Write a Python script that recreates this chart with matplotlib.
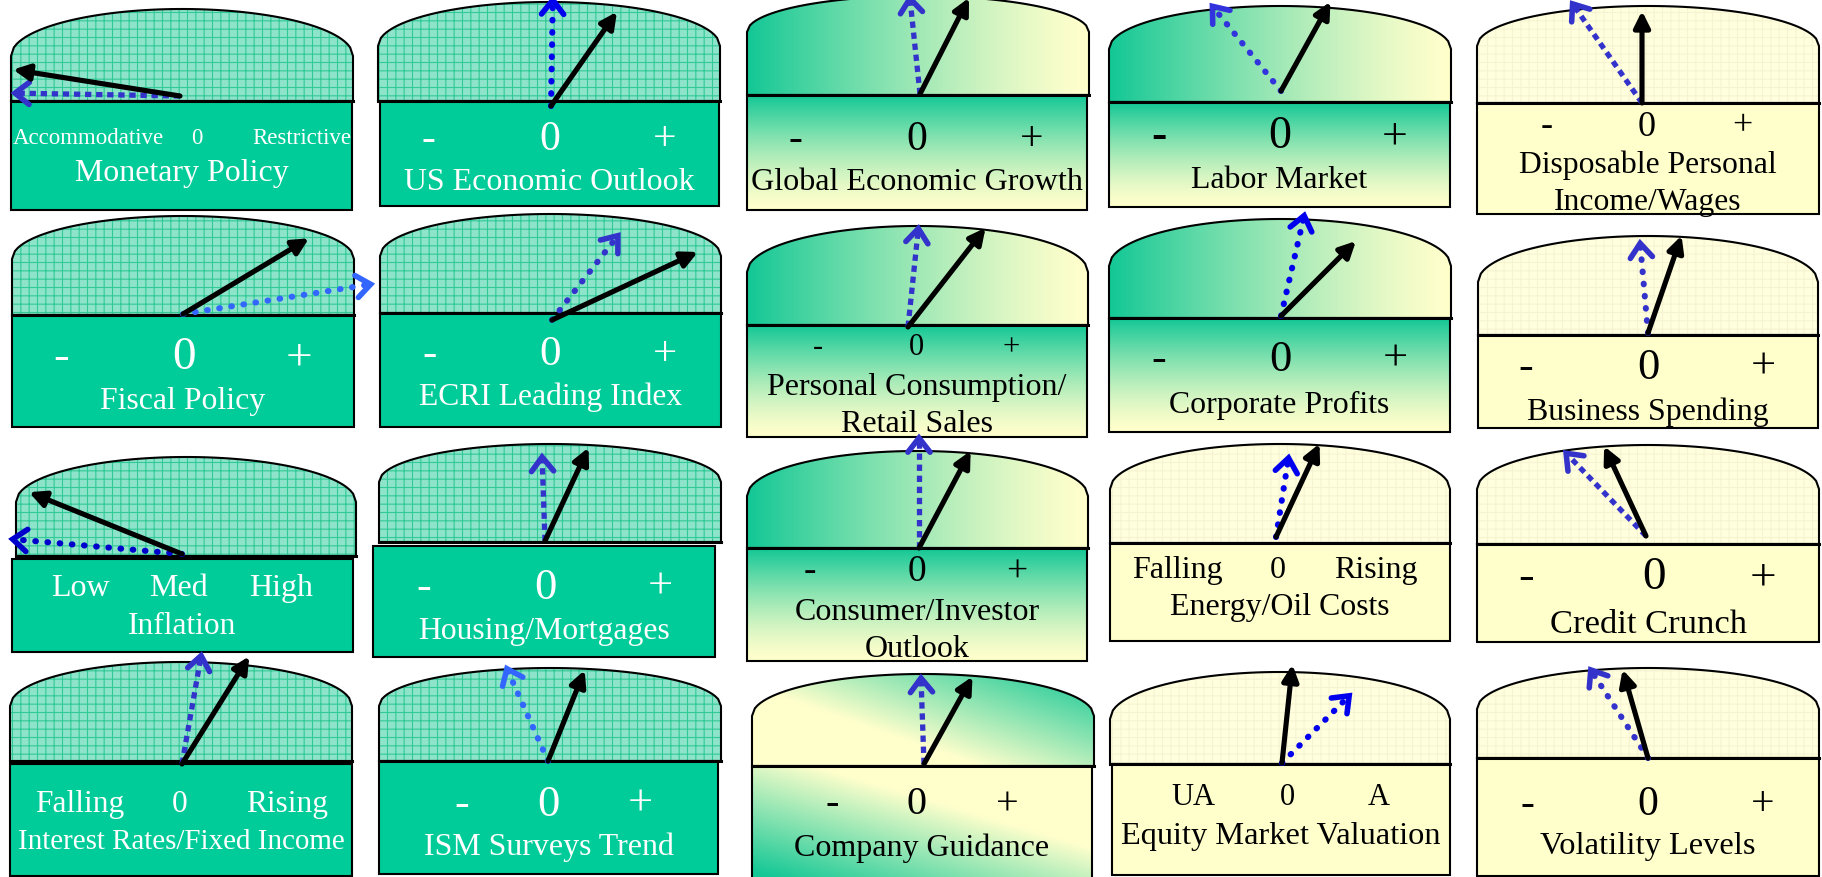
import numpy as np
import matplotlib
matplotlib.use("Agg")
import matplotlib.pyplot as plt
from matplotlib.path import Path
from matplotlib.patches import PathPatch, Rectangle, FancyArrowPatch

plt.rcParams['font.family'] = ['Liberation Serif', 'DejaVu Serif']
plt.rcParams['hatch.linewidth'] = 0.8

# ---- data: one entry per gauge, row by row ----
titles = ["Monetary Policy", "US Economic Outlook", "Global Economic Growth",
          "Labor Market", "Disposable Personal\nIncome/Wages",
          "Fiscal Policy", "ECRI Leading Index", "Personal Consumption/\nRetail Sales",
          "Corporate Profits", "Business Spending",
          "Inflation", "Housing/Mortgages", "Consumer/Investor\nOutlook",
          "Energy/Oil Costs", "Credit Crunch",
          "Interest Rates/Fixed Income", "ISM Surveys Trend", "Company Guidance",
          "Equity Market Valuation", "Volatility Levels"]
pm = ("-", "0", "+")
scale_labels = [("Accommodative", "0", "Restrictive"), pm, pm, pm, pm,
                pm, pm, pm, pm, pm,
                ("Low", "Med", "High"), pm, pm, ("Falling", "0", "Rising"), pm,
                ("Falling", "0", "Rising"), pm, pm, ("UA", "0", "A"), pm]
# needle readings in degrees, -90 = far left, 0 = straight up, +90 = far right
current_reading = [-81, 35, 27, 29, 0, 59, 65, 38, 45, 19,
                   -68, 25, 28, 25, -25, 32, 22, 29, 6, -16]
prior_reading = [-89, 1, -6, -39, -35, 81, 38, 6, 13, -5,
                 -85, -2, 0, 9, -44, 10, -24, -2, 45, -33]

# ---- layout (pixels, y down) ----
# dome l, r, top, shoulder, base, box l, r, top, bottom
geom = [
    (11, 353, 10, 57, 102, 11, 352, 102, 211),
    (378, 720, 3, 47, 102, 380, 719, 102, 207),
    (747, 1089, -3, 33, 96, 747, 1087, 96, 211),
    (1109, 1451, 7, 50, 103, 1109, 1450, 103, 208),
    (1477, 1819, 7, 47, 104, 1477, 1819, 104, 215),
    (12, 354, 217, 260, 316, 12, 354, 316, 428),
    (380, 721, 215, 257, 314, 380, 721, 314, 428),
    (747, 1088, 227, 273, 326, 747, 1087, 326, 438),
    (1109, 1451, 220, 267, 319, 1109, 1450, 319, 433),
    (1478, 1818, 237, 283, 336, 1478, 1818, 336, 429),
    (16, 356, 458, 503, 557, 12, 353, 560, 653),
    (379, 721, 445, 483, 543, 373, 715, 547, 658),
    (747, 1088, 452, 497, 549, 747, 1087, 549, 662),
    (1110, 1450, 445, 490, 544, 1110, 1450, 544, 642),
    (1477, 1819, 446, 490, 545, 1477, 1819, 545, 643),
    (10, 352, 663, 707, 762, 10, 352, 765, 877),
    (379, 721, 669, 707, 762, 379, 718, 762, 875),
    (752, 1094, 675, 717, 767, 752, 1092, 767, 880),
    (1110, 1450, 673, 720, 765, 1112, 1450, 765, 876),
    (1477, 1819, 669, 710, 759, 1477, 1819, 759, 877),
]
pivots = [(180, 97), (551, 107), (920, 95), (1281, 92), (1642, 104),
          (183, 315), (552, 321), (908, 328), (1281, 317), (1648, 334),
          (182, 555), (545, 542), (919, 549), (1276, 538), (1646, 537),
          (182, 765), (548, 762), (924, 765), (1282, 764), (1648, 759)]
needle_len = [(169, 165), (115, 106), (108, 96), (102, 109), (92, 121),
              (147, 190), (161, 107), (126, 99), (106, 103), (103, 90),
              (165, 170), (103, 84), (110, 110), (103, 80), (99, 115),
              (127, 110), (98, 101), (100, 86), (99, 95), (92, 105)]
tick_x = [(88, 197, 302), (428, 550, 665), (795, 917, 1032), (1159, 1280, 1395), (1547, 1647, 1742),
          (61, 184, 299), (429, 550, 665), (818, 916, 1011), (1159, 1280, 1395), (1526, 1648, 1763),
          (80, 179, 281), (424, 545, 660), (810, 917, 1017), (1177, 1278, 1376), (1526, 1654, 1763),
          (80, 180, 287), (462, 548, 640), (832, 917, 1007), (1193, 1287, 1379), (1527, 1648, 1763)]
# tick y, tick size (pt), title centre y, width of widest title line (px)
txt = [(138, 16.5, 173, 213), (140, 30, 183, 290), (140, 30, 182, 331), (137, 33, 180, 176), (127, 26, 184, 258),
       (358, 34, 402, 165), (355, 31, 397, 264), (348, 22, 406, 300), (360, 32, 405, 220), (368, 32, 412, 242),
       (589, 23, 627, 108), (588, 32, 632, 252), (572, 27, 631, 245), (571, 23, 608, 220), (578, 34, 625, 196),
       (805, 22.6, 842, 327), (805, 32, 847, 250), (805, 29, 848, 255), (798, 22, 837, 319), (805, 30, 847, 215)]
LINE_GAP = 37
fills = ['hatch', 'hatch', 'grad', 'grad', 'pale',
         'hatch', 'hatch', 'grad', 'grad', 'pale',
         'hatch', 'hatch', 'grad', 'pale', 'pale',
         'hatch', 'hatch', 'guide', 'pale', 'pale']
dots = ['sq', 'rd', 'sq', 'rd', 'sq', 'rd', 'rd', 'sq', 'rd', 'rd',
        'rd', 'sq', 'sq', 'rd', 'sq', 'sq', 'rd', 'sq', 'rd', 'rd']
blues = ['#3333CC', '#0000EE', '#3333CC', '#3333DD', '#3333CC',
         '#3366FF', '#3333CC', '#3333CC', '#0000EE', '#3333CC',
         '#0000CC', '#3333CC', '#3333CC', '#0000EE', '#3333CC',
         '#3333CC', '#3366FF', '#3333CC', '#0000EE', '#3333CC']

TEAL = '#00CC99'
teal_rgb = np.array([0x14, 0xC8, 0x96]) / 255.0
yel_rgb = np.array([1.0, 1.0, 0.8])


def gradient(kind, part):
    xn, yn = np.meshgrid(np.linspace(0, 1, 64), np.linspace(0, 1, 64))
    if kind == 'guide':
        if part == 'dome':
            t = 0.9 * xn - 0.7 * yn + 0.1
        else:
            t = 0.9 * yn - 0.8 * xn + 0.15
    elif part == 'dome':
        t = (1 - xn) ** 1.3
    else:
        t = (1 - yn) ** 1.4
    t = np.clip(t, 0, 1)[..., None]
    return yel_rgb * (1 - t) + teal_rgb * t


fig = plt.figure(figsize=(18.22, 8.78), dpi=100)
ax = fig.add_axes([0, 0, 1, 1])
ax.set_autoscale_on(False)
ax.set_xlim(0, 1822)
ax.set_ylim(878, 0)
ax.axis('off')
renderer = fig.canvas.get_renderer()

for i in range(len(titles)):
    l, r, top, sh, base, bl, br, bt, bb = geom[i]
    u = np.linspace(-1, 1, 120)
    xs = (l + r) / 2 + u * (r - l) / 2
    ys = sh - (sh - top) * np.sqrt(1 - u ** 2)
    verts = [(l, base)] + list(zip(xs, ys)) + [(r, base), (l, base)]
    codes = [Path.MOVETO] + [Path.LINETO] * (len(xs) + 1) + [Path.CLOSEPOLY]
    dome = Path(verts, codes)
    kind = fills[i]

    outline = PathPatch(dome, facecolor='none', edgecolor='black', lw=1.5, zorder=3)
    ax.add_patch(outline)
    if kind == 'hatch':
        ax.add_patch(PathPatch(dome, facecolor='#8DE4CA', edgecolor='#33C996',
                               lw=0, hatch='++', zorder=1))
        ax.add_patch(Rectangle((bl, bt), br - bl, bb - bt, facecolor=TEAL,
                               edgecolor='none', zorder=1))
        tcol = 'white'
    elif kind == 'pale':
        ax.add_patch(PathPatch(dome, facecolor='#FFFFDD', edgecolor='#F6F3D2',
                               lw=0, hatch='++', zorder=1))
        ax.add_patch(Rectangle((bl, bt), br - bl, bb - bt, facecolor='#FFFFCC',
                               edgecolor='none', zorder=1))
        tcol = 'black'
    else:
        im = ax.imshow(gradient(kind, 'dome'), extent=(l, r, base, top), origin='upper',
                       aspect='auto', interpolation='bilinear', zorder=1)
        im.set_clip_path(outline)
        ax.imshow(gradient(kind, 'box'), extent=(bl, br, bb, bt), origin='upper',
                  aspect='auto', interpolation='bilinear', zorder=1)
        tcol = 'black'
    ax.add_patch(Rectangle((bl, bt), br - bl, bb - bt, facecolor='none',
                           edgecolor='black', lw=1.5, zorder=3))
    ax.plot([l, r], [base, base], color='black', lw=2.2, zorder=3)

    ty, tfs, hy, hw = txt[i]
    for lab, x in zip(scale_labels[i], tick_x[i]):
        ax.text(x, ty, lab, ha='center', va='center', fontsize=tfs, color=tcol, zorder=4)

    # title: size it so the widest line spans the measured width
    lines = titles[i].split('\n')
    widest = max(lines, key=len)
    probe = ax.text(0, 0, widest, fontsize=20)
    fs = 20 * hw / probe.get_window_extent(renderer).width
    probe.remove()
    for k, line in enumerate(lines):
        yk = hy + (k - (len(lines) - 1) / 2) * LINE_GAP
        ax.text((bl + br) / 2, yk, line, ha='center', va='center', fontsize=fs,
                color=tcol, zorder=4)

    px, py = pivots[i]
    len_now, len_prior = needle_len[i]

    # prior reading: dotted blue needle with open head
    a = np.radians(prior_reading[i])
    d = np.array([np.sin(a), -np.cos(a)])
    tip = np.array([px, py]) + len_prior * d
    if dots[i] == 'sq':
        ax.plot([px, tip[0]], [py, tip[1]], color=blues[i], lw=3.8,
                linestyle=(0, (1.2, 0.9)), dash_capstyle='butt', zorder=5)
    else:
        ax.plot([px, tip[0]], [py, tip[1]], color=blues[i], lw=4.4,
                linestyle=(0, (0.1, 1.9)), dash_capstyle='round', zorder=5)
    back = -d
    arms = []
    for s in (1, -1):
        c, sn = np.cos(np.radians(38) * s), np.sin(np.radians(38) * s)
        arms.append(tip + 18 * np.array([c * back[0] - sn * back[1], sn * back[0] + c * back[1]]))
    ax.plot([arms[0][0], tip[0], arms[1][0]], [arms[0][1], tip[1], arms[1][1]],
            color=blues[i], lw=4.0, solid_capstyle='round', solid_joinstyle='miter', zorder=5)

    # current reading: solid black needle
    a = np.radians(current_reading[i])
    tip = (px + len_now * np.sin(a), py - len_now * np.cos(a))
    ax.add_patch(FancyArrowPatch((px, py), tip, arrowstyle='-|>', mutation_scale=24,
                                 lw=3.7, color='black', shrinkA=0, shrinkB=0, zorder=6))

fig.savefig('out.png', dpi=100)
